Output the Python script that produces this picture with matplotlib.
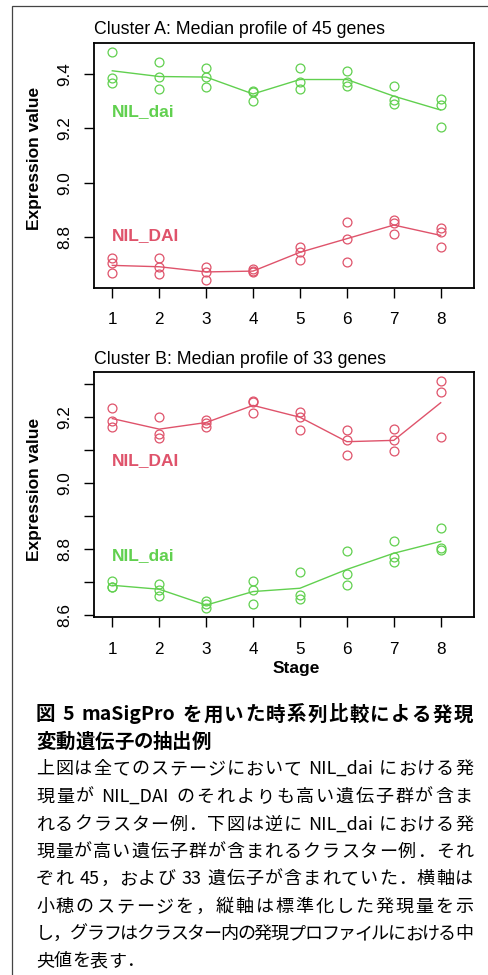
import numpy as np
import matplotlib.pyplot as plt
from matplotlib.patches import Rectangle
from matplotlib.font_manager import FontProperties

# stages on the x axis
stages = [1, 2, 3, 4, 5, 6, 7, 8]

# Cluster A: three replicate values per stage and the cluster median
a_dai_pts = [[9.481, 9.385, 9.367], [9.442, 9.390, 9.344], [9.420, 9.389, 9.352],
             [9.338, 9.332, 9.301], [9.423, 9.371, 9.344], [9.412, 9.371, 9.355],
             [9.357, 9.304, 9.291], [9.306, 9.284, 9.203]]
a_dai_med = [9.411, 9.390, 9.388, 9.326, 9.379, 9.379, 9.318, 9.267]
a_DAI_pts = [[8.723, 8.705, 8.668], [8.723, 8.692, 8.665], [8.692, 8.674, 8.643],
             [8.683, 8.678, 8.672], [8.766, 8.747, 8.716], [8.855, 8.795, 8.710],
             [8.863, 8.854, 8.812], [8.833, 8.818, 8.763]]
a_DAI_med = [8.697, 8.692, 8.673, 8.676, 8.745, 8.795, 8.845, 8.807]

# Cluster B
b_DAI_pts = [[9.229, 9.189, 9.171], [9.200, 9.150, 9.138], [9.191, 9.184, 9.171],
             [9.249, 9.246, 9.212], [9.215, 9.200, 9.162], [9.162, 9.131, 9.085],
             [9.163, 9.132, 9.098], [9.311, 9.276, 9.140]]
b_DAI_med = [9.196, 9.164, 9.184, 9.236, 9.200, 9.126, 9.130, 9.244]
b_dai_pts = [[8.704, 8.687, 8.685], [8.694, 8.678, 8.660], [8.643, 8.633, 8.621],
             [8.704, 8.677, 8.634], [8.730, 8.661, 8.650], [8.794, 8.726, 8.693],
             [8.824, 8.778, 8.763], [8.864, 8.804, 8.798]]
b_dai_med = [8.691, 8.679, 8.631, 8.672, 8.682, 8.739, 8.788, 8.824]

caption_bold = ["図 5 maSigPro を用いた時系列比較による発現",
                "変動遺伝子の抽出例"]
caption_body = ["上図は全てのステージにおいて NIL_dai における発",
                "現量が NIL_DAI のそれよりも高い遺伝子群が含ま",
                "れるクラスター例．下図は逆に NIL_dai における発",
                "現量が高い遺伝子群が含まれるクラスター例．それ",
                "ぞれ 45，および 33 遺伝子が含まれていた．横軸は",
                "小穂のステージを，縦軸は標準化した発現量を示",
                "し，グラフはクラスター内の発現プロファイルにおける中",
                "央値を表す．"]

GREEN = "#61D04F"
RED = "#DF536B"
W, H = 489, 975

plt.rcParams['font.family'] = ['Liberation Sans', 'DejaVu Sans']

fig = plt.figure(figsize=(W / 100, H / 100), dpi=100)
fig.patches.append(Rectangle((12 / W, -0.01), 1.0, (H - 6) / H + 0.01,
                             transform=fig.transFigure, fill=False,
                             edgecolor="#444444", linewidth=0.9))
renderer = fig.canvas.get_renderer()


def fy(py):
    return 1 - py / H


def panel(top_px, bot_px, series, labels, ylim, yticks, ylabels, title, title_y, ylab_y):
    ax = fig.add_axes([94 / W, fy(bot_px), 380 / W, (bot_px - top_px) / H])
    for pts, med, col in series:
        for s, vals in zip(stages, pts):
            ax.plot([s] * len(vals), vals, 'o', mfc='none', mec=col, ms=6.4, mew=0.9)
        ax.plot(stages, med, '-', color=col, lw=1.0)
    for txt, y, col in labels:
        ax.text(1.0, y, txt, color=col, fontsize=12.5, fontweight='bold',
                ha='left', va='center')
    ax.set_xlim(0.61, 8.71)
    ax.set_ylim(*ylim)
    ax.set_xticks(stages)
    ax.set_xticklabels([str(s) for s in stages], fontsize=12.3)
    ax.set_yticks(yticks)
    ax.set_yticklabels(ylabels, fontsize=12.3, rotation=90, va='center')
    ax.tick_params(length=7.5, width=1.0)
    ax.tick_params(axis='x', pad=10)
    ax.tick_params(axis='y', pad=8)
    for sp in ax.spines.values():
        sp.set_linewidth(1.3)
    fig.text(94 / W, fy(title_y), title, fontsize=12.8, ha='left', va='center')
    fig.text(35 / W, fy(ylab_y), "Expression value", fontsize=12.5, fontweight='bold',
             rotation=90, ha='center', va='center')
    return ax


panel(43, 288,
      [(a_dai_pts, a_dai_med, GREEN), (a_DAI_pts, a_DAI_med, RED)],
      [("NIL_dai", 9.263, GREEN), ("NIL_DAI", 8.806, RED)],
      (8.614, 9.513), [8.8, 9.0, 9.2, 9.4], ["8.8", "9.0", "9.2", "9.4"],
      "Cluster A: Median profile of 45 genes", 30, 158)

bt = np.round(np.arange(8.6, 9.31, 0.1), 1)
panel(371.7, 617.3,
      [(b_DAI_pts, b_DAI_med, RED), (b_dai_pts, b_dai_med, GREEN)],
      [("NIL_DAI", 9.069, RED), ("NIL_dai", 8.781, GREEN)],
      (8.594, 9.338), bt, ["%.1f" % v if round(v * 10) % 2 == 0 else "" for v in bt],
      "Cluster B: Median profile of 33 genes", 359, 489)

fig.text(296 / W, fy(669), "Stage", fontsize=12.5, fontweight='bold', ha='center', va='center')

# caption: justified Japanese text; Latin runs are kept together
jp = ['Noto Sans CJK JP', 'DejaVu Sans']
LEFT, RIGHT = 36, 473


def runs(line):
    out, cur = [], ""
    for c in line:
        if c.isascii() and c != " ":
            cur += c
        else:
            if cur:
                out.append(cur)
                cur = ""
            out.append(c)
    if cur:
        out.append(cur)
    return out


def advance(s, prop):
    w1 = renderer.get_text_width_height_descent("x" + s + "x", prop, ismath=False)[0]
    w0 = renderer.get_text_width_height_descent("xx", prop, ismath=False)[0]
    return w1 - w0


def put_line(line, y, weight, size, justify):
    prop = FontProperties(family=jp, size=size, weight=weight)
    parts = runs(line)
    adv = [advance(p, prop) for p in parts]
    extra = (RIGHT - LEFT - sum(adv)) / (len(parts) - 1) if justify else 0.0
    x = LEFT
    for p, a in zip(parts, adv):
        if p != " ":
            fig.text(x / W, fy(y), p, family=jp, fontsize=size, fontweight=weight,
                     ha='left', va='center')
        x += a + extra


for i, (line, y) in enumerate(zip(caption_bold, [715, 742])):
    put_line(line, y, 'bold', 14, i == 0)
ys_body = [769, 797, 825, 852, 879, 907, 934, 961]
for i, (line, y) in enumerate(zip(caption_body, ys_body)):
    put_line(line, y, 'normal', 13, i < len(caption_body) - 1)

fig.savefig("out.png", dpi=100)
